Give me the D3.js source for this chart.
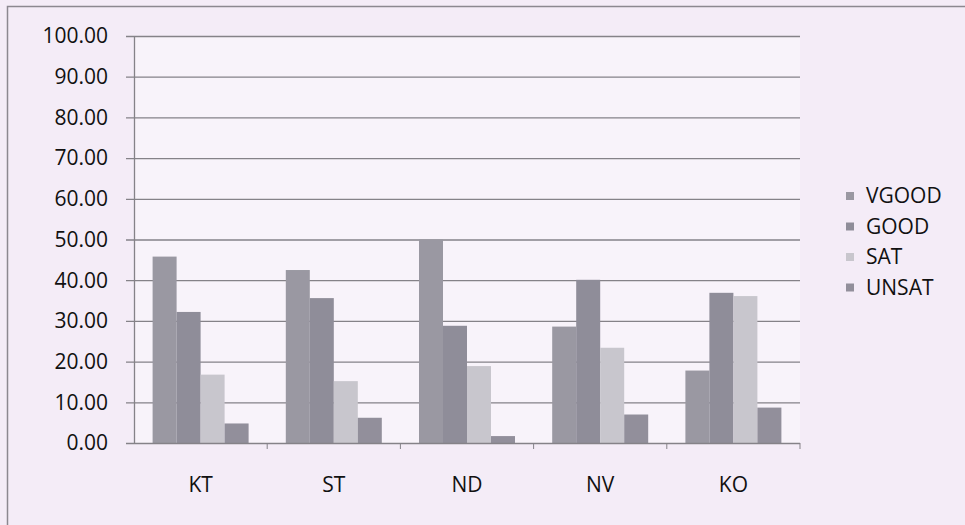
<!DOCTYPE html>
<html>
  <head>
    <meta charset="utf-8">
    <title>Grades by site</title>
    <script src="https://cdn.jsdelivr.net/npm/d3@7"></script>
    <style>
      body { margin: 0; background: #f4ecf7; }
      svg { display: block; font-family: "Open Sans", Lato, sans-serif; }
      .tick-label { font-size: 21px; fill: #111; }
      .legend-text { font-size: 21px; fill: #111; }
    </style>
  </head>
  <body>
    <svg id="chart" width="965" height="525"></svg>
    <script>
    var categories = ["KT", "ST", "ND", "NV", "KO"];
    var seriesNames = ["VGOOD", "GOOD", "SAT", "UNSAT"];
    var vgood = [45.8, 42.5, 50.0, 28.6, 17.8];
    var good  = [32.2, 35.6, 28.8, 40.1, 36.9];
    var sat   = [16.8, 15.2, 18.9, 23.4, 36.1];
    var unsat = [4.8, 6.2, 1.7, 7.0, 8.7];
    var yTicks = [0, 10, 20, 30, 40, 50, 60, 70, 80, 90, 100];

    var values = [vgood, good, sat, unsat];
    var colors = ["#9a98a2", "#8f8d99", "#c8c6cd", "#928f9b"];

    var svg = d3.select("#chart");

    // outer frame (cut off at right and bottom in the original)
    svg.append("rect")
      .attr("x", 7.5).attr("y", 6.5)
      .attr("width", 1000).attr("height", 600)
      .attr("fill", "#f4ecf7")
      .attr("stroke", "#8c8890")
      .attr("stroke-width", 1.5);

    var plotLeft = 134, plotRight = 800, plotTop = 36, plotBottom = 443;

    var x0 = d3.scaleBand()
      .domain(categories)
      .range([plotLeft, plotRight])
      .paddingInner(0)
      .paddingOuter(0);

    var x1 = d3.scaleBand()
      .domain(seriesNames)
      .range([0, x0.bandwidth()])
      .paddingInner(0)
      .paddingOuter(0.775);

    var y = d3.scaleLinear()
      .domain([0, 100])
      .range([plotBottom, plotTop]);

    // plot area
    svg.append("rect")
      .attr("x", plotLeft).attr("y", plotTop)
      .attr("width", plotRight - plotLeft).attr("height", plotBottom - plotTop)
      .attr("fill", "#f8f3fa");

    // gridlines
    svg.append("g")
      .selectAll("line")
      .data(yTicks.slice(1))
      .enter().append("line")
      .attr("x1", plotLeft - 8).attr("x2", plotRight)
      .attr("y1", function(d) { return y(d) + 0.5; })
      .attr("y2", function(d) { return y(d) + 0.5; })
      .attr("stroke", "#858288")
      .attr("stroke-width", 1.3);

    // bars
    var data = categories.map(function(c, i) {
      return seriesNames.map(function(s, j) {
        return {cat: c, key: s, value: values[j][i], color: colors[j]};
      });
    });

    svg.append("g")
      .selectAll("g")
      .data(data)
      .enter().append("g")
      .attr("transform", function(d) { return "translate(" + x0(d[0].cat) + ",0)"; })
      .selectAll("rect")
      .data(function(d) { return d; })
      .enter().append("rect")
      .attr("x", function(d) { return x1(d.key); })
      .attr("width", x1.bandwidth())
      .attr("y", function(d) { return y(d.value); })
      .attr("height", function(d) { return y(0) - y(d.value); })
      .attr("fill", function(d) { return d.color; });

    // y axis line
    svg.append("line")
      .attr("x1", plotLeft + 0.5).attr("x2", plotLeft + 0.5)
      .attr("y1", plotTop).attr("y2", plotBottom)
      .attr("stroke", "#858288")
      .attr("stroke-width", 1.3);

    // x axis with tick marks
    var xAxis = svg.append("g");
    xAxis.append("line")
      .attr("x1", plotLeft - 8).attr("x2", plotRight)
      .attr("y1", plotBottom + 0.5).attr("y2", plotBottom + 0.5)
      .attr("stroke", "#858288")
      .attr("stroke-width", 1.3);
    xAxis.selectAll(".xt")
      .data(categories)
      .enter().append("line")
      .attr("class", "xt")
      .attr("x1", function(d) { return x0(d) + x0.bandwidth(); })
      .attr("x2", function(d) { return x0(d) + x0.bandwidth(); })
      .attr("y1", plotBottom).attr("y2", plotBottom + 6)
      .attr("stroke", "#858288");
    xAxis.selectAll("text")
      .data(categories)
      .enter().append("text")
      .attr("class", "tick-label")
      .attr("x", function(d) { return x0(d) + x0.bandwidth() / 2; })
      .attr("y", plotBottom + 49)
      .attr("text-anchor", "middle")
      .text(function(d) { return d; });

    // y tick labels
    svg.append("g")
      .selectAll("text")
      .data(yTicks)
      .enter().append("text")
      .attr("class", "tick-label")
      .attr("x", 108)
      .attr("y", function(d) { return y(d); })
      .attr("dy", "0.35em")
      .attr("text-anchor", "end")
      .text(function(d) { return d3.format(".2f")(d); });

    // legend
    var legend = svg.append("g")
      .selectAll("g")
      .data(seriesNames)
      .enter().append("g")
      .attr("transform", function(d, i) { return "translate(846," + (196 + i * 30.5) + ")"; });

    legend.append("rect")
      .attr("x", 0).attr("y", -4)
      .attr("width", 8).attr("height", 8)
      .attr("fill", function(d, i) { return colors[i]; });

    legend.append("text")
      .attr("class", "legend-text")
      .attr("x", 20)
      .attr("dy", "0.35em")
      .text(function(d) { return d; });
    </script>
  </body>
</html>
